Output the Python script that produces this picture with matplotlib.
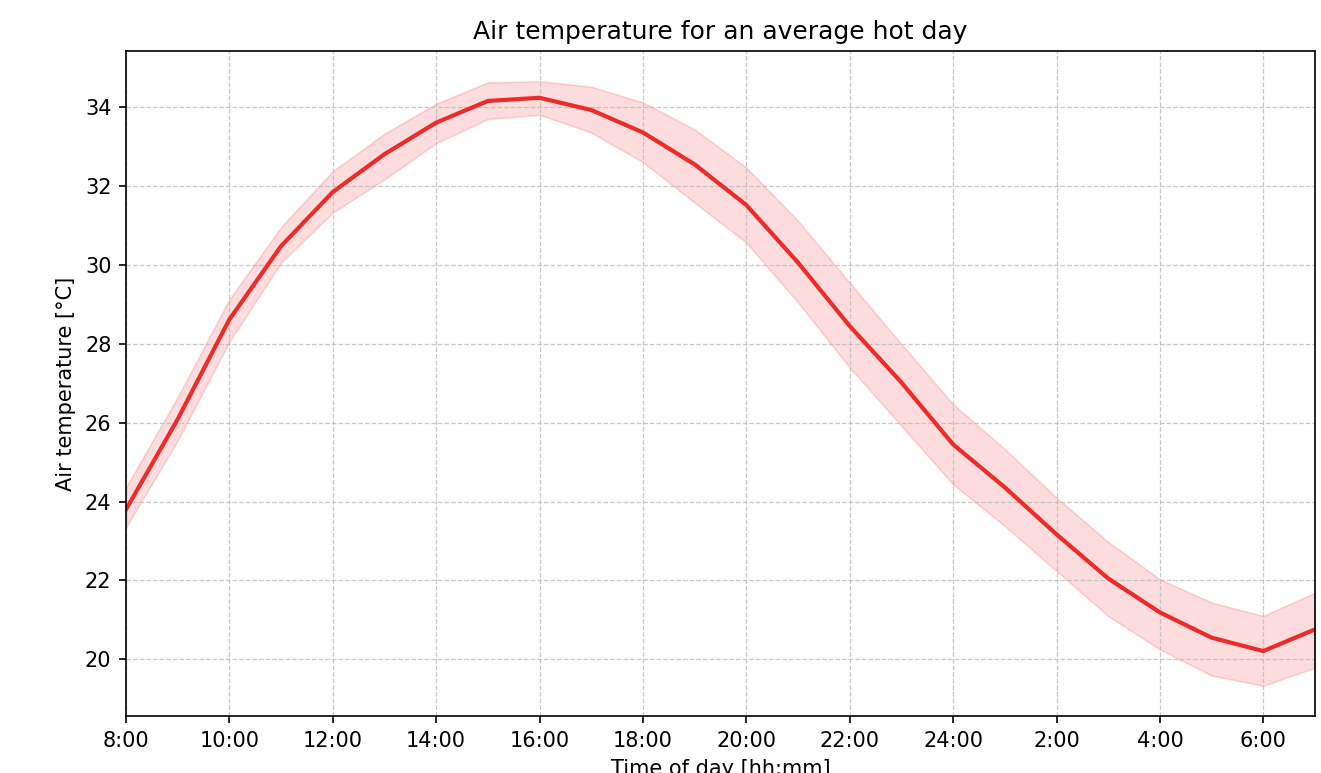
import numpy as np
import matplotlib.pyplot as plt

# hourly values, 8:00 through 7:00 next day
hours = np.arange(8, 32)
temp_mean = [23.80, 26.09, 28.62, 30.48, 31.85, 32.81, 33.61, 34.16, 34.24, 33.93,
             33.36, 32.55, 31.52, 30.06, 28.45, 27.02, 25.45, 24.36, 23.17, 22.05,
             21.19, 20.55, 20.21, 20.76]
temp_upper = [24.36, 26.65, 29.13, 30.96, 32.38, 33.33, 34.09, 34.63, 34.66, 34.52,
              34.12, 33.44, 32.47, 31.12, 29.55, 27.99, 26.47, 25.33, 24.10, 22.98,
              22.03, 21.44, 21.10, 21.69]
temp_lower = [23.35, 25.55, 28.05, 30.06, 31.33, 32.17, 33.09, 33.70, 33.81, 33.36,
              32.61, 31.58, 30.57, 29.05, 27.40, 25.92, 24.44, 23.38, 22.24, 21.10,
              20.25, 19.59, 19.33, 19.79]

tick_hours = np.arange(8, 31, 2)
tick_labels = ["8:00", "10:00", "12:00", "14:00", "16:00", "18:00", "20:00",
               "22:00", "24:00", "2:00", "4:00", "6:00"]

fig = plt.figure(figsize=(1321 / 150, 773 / 150), dpi=150)
ax = fig.add_axes([126 / 1321, 57 / 773, (1315 - 126) / 1321, (716 - 51) / 773])

ax.fill_between(hours, temp_lower, temp_upper, color="#f03030", alpha=0.17, linewidth=0.8)
ax.plot(hours, temp_mean, color="#ec2b2b", linewidth=2)

ax.set_xlim(8, 31)
ax.set_xticks(tick_hours)
ax.set_xticklabels(tick_labels)
ax.grid(True, linestyle="--", color="#bbbbbb", alpha=0.8, linewidth=0.6)

ax.set_title("Air temperature for an average hot day", fontsize=12)
ax.set_xlabel("Time of day [hh:mm]")
ax.set_ylabel("Air temperature [°C]")

fig.savefig("out.png", dpi=150)
